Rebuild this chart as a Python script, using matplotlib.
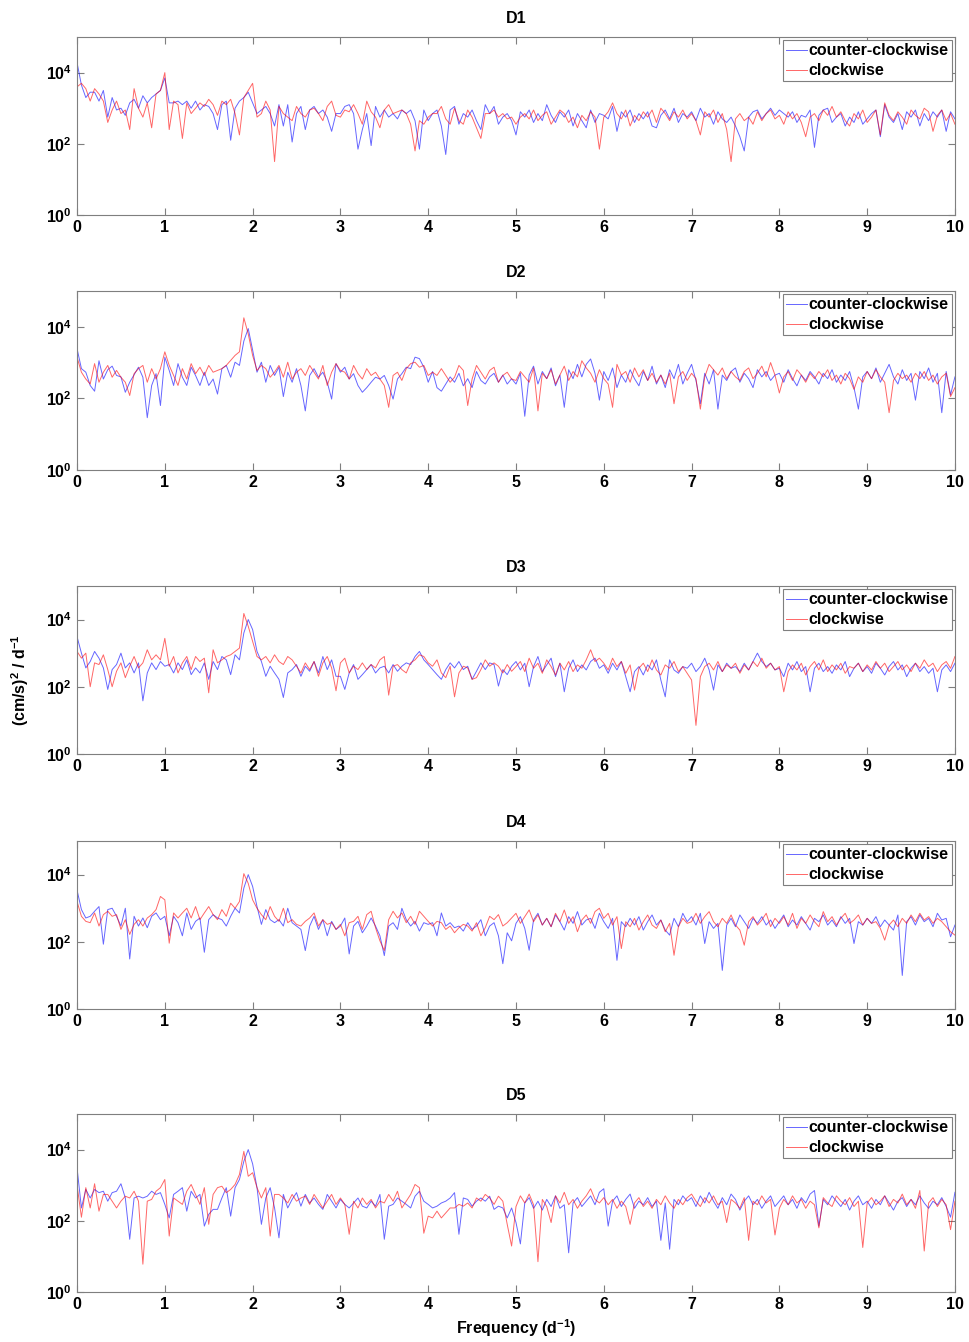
"""Rotary spectra (counter-clockwise vs clockwise) for moorings D1-D5."""
import numpy as np

import matplotlib
matplotlib.use("Agg")
import matplotlib.pyplot as plt  # noqa: E402
from matplotlib.ticker import FuncFormatter, NullLocator  # noqa: E402

plt.rcParams["font.family"] = ["Liberation Sans", "DejaVu Sans"]
plt.rcParams["font.weight"] = "bold"
plt.rcParams["mathtext.fontset"] = "custom"
plt.rcParams["mathtext.rm"] = "Liberation Sans:bold"
plt.rcParams["mathtext.bf"] = "Liberation Sans:bold"
plt.rcParams["mathtext.it"] = "Liberation Sans:bold:italic"

# frequency grid (cycles per day), 0.05 d^-1 steps
freq = np.linspace(0, 10, 201)

# log10 of spectral density, (cm/s)^2 / d^-1
d1_ccw = [4.28, 3.65, 3.3, 3.45, 3.45, 3.2, 3.5, 2.75, 3.3, 2.95, 3.0, 2.8, 3.15, 3.25, 3.0, 3.35, 3.15, 3.3, 3.4, 3.5,
          3.85, 3.15, 3.15, 3.2, 3.1, 3.2, 3.0, 3.2, 2.95, 3.1, 3.05, 2.85, 2.4, 3.1, 3.2, 2.1, 3.0, 3.2, 3.3, 3.45,
          3.15, 2.85, 2.95, 3.05, 2.85, 2.5, 3.1, 2.5, 3.1, 2.05, 2.85, 3.05, 2.4, 2.95, 3.05, 2.85, 2.95, 2.75, 2.35, 2.85,
          2.85, 3.05, 3.1, 2.85, 1.85, 2.4, 2.85, 1.95, 3.05, 2.75, 2.95, 2.75, 2.85, 2.7, 2.95, 2.85, 2.95, 2.65, 1.85, 2.95,
          2.65, 2.85, 2.95, 2.5, 1.7, 2.95, 3.05, 2.55, 2.85, 2.75, 2.95, 2.65, 2.4, 3.1, 2.85, 3.05, 2.55, 2.75, 2.85, 2.65,
          2.25, 2.9, 2.75, 2.95, 2.6, 2.85, 2.65, 3.1, 2.8, 2.6, 2.9, 2.75, 2.95, 2.5, 2.85, 2.65, 2.45, 2.95, 2.6, 2.85,
          2.8, 2.7, 3.05, 2.35, 2.9, 2.75, 2.95, 2.6, 2.85, 2.7, 2.9, 2.5, 2.45, 2.8, 2.95, 2.7, 3.0, 2.6, 2.85, 2.75,
          2.9, 2.65, 3.0, 2.75, 2.85, 2.55, 2.9, 2.7, 2.6, 2.75, 2.5, 2.2, 1.8, 2.75, 2.9, 2.95, 2.7, 2.85, 3.0, 2.8,
          2.95, 2.85, 2.75, 2.9, 2.6, 2.8, 2.75, 2.95, 1.9, 2.8, 2.95, 3.0, 2.6, 2.75, 2.85, 2.5, 2.75, 2.6, 2.9, 2.55,
          2.7, 2.85, 2.95, 2.2, 3.1, 2.75, 2.6, 2.85, 2.4, 2.9, 2.75, 2.95, 2.5, 2.85, 2.65, 2.9, 2.75, 2.95, 2.35, 2.9, 2.7]
d1_cw = [3.6, 3.7, 3.55, 3.2, 3.55, 3.4, 3.2, 2.6, 2.95, 3.2, 2.85, 2.95, 2.4, 3.55, 3.0, 2.75, 3.15, 2.45, 3.4, 3.5,
         4.0, 2.4, 3.2, 3.1, 2.15, 3.15, 2.85, 3.0, 3.15, 3.05, 3.25, 3.1, 2.8, 3.2, 3.1, 3.25, 2.85, 2.25, 3.3, 3.5,
         3.7, 2.75, 2.85, 3.2, 2.95, 1.5, 3.05, 2.85, 2.75, 2.65, 3.05, 2.85, 2.75, 2.95, 3.0, 2.85, 2.65, 3.05, 3.2, 2.8,
         2.75, 2.95, 2.9, 3.1, 2.85, 2.55, 3.2, 2.9, 2.75, 2.45, 2.95, 3.1, 2.85, 2.9, 2.95, 2.85, 2.55, 1.8, 2.65, 2.55,
         2.75, 2.85, 2.85, 3.05, 2.7, 2.55, 3.0, 2.65, 2.55, 2.95, 2.75, 2.45, 2.15, 2.85, 2.85, 2.95, 2.75, 2.85, 2.7, 2.75,
         2.55, 2.75, 2.85, 2.7, 2.95, 2.65, 2.8, 2.9, 2.55, 2.75, 2.95, 2.85, 2.6, 2.75, 2.45, 2.8, 2.65, 2.9, 2.75, 1.85,
         2.75, 2.9, 3.15, 2.85, 2.7, 2.95, 2.5, 2.8, 2.65, 2.9, 2.75, 2.95, 2.6, 3.0, 2.85, 2.65, 2.9, 2.75, 2.95, 2.7,
         2.85, 2.65, 2.25, 2.9, 2.75, 2.95, 2.6, 2.85, 2.4, 1.5, 2.7, 2.85, 2.65, 2.75, 2.55, 2.9, 2.65, 2.85, 2.95, 2.7,
         2.8, 2.55, 2.9, 2.7, 2.85, 2.6, 2.2, 2.75, 2.85, 2.65, 2.95, 2.8, 3.05, 2.75, 2.9, 2.65, 2.5, 2.85, 2.7, 2.95,
         2.6, 2.75, 2.95, 2.25, 3.15, 2.8, 2.65, 2.9, 2.75, 2.55, 2.95, 2.8, 2.7, 3.0, 2.9, 2.35, 2.8, 2.95, 2.65, 2.85, 2.55]

d2_ccw = [3.39, 2.83, 2.73, 2.36, 2.2, 3.05, 2.54, 2.8, 2.9, 2.64, 2.6, 2.17, 2.45, 2.66, 2.87, 2.59, 1.46, 2.36, 2.69, 1.8,
          3.15, 2.78, 2.36, 2.97, 2.59, 2.36, 2.87, 2.64, 2.36, 2.73, 2.36, 2.54, 2.12, 2.83, 2.92, 2.59, 3.01, 2.92, 3.6, 3.95,
          3.35, 2.73, 3.01, 2.45, 2.92, 2.64, 2.87, 2.05, 2.73, 2.45, 2.83, 2.36, 1.65, 2.64, 2.83, 2.59, 2.73, 2.45, 1.98, 2.97,
          2.73, 2.87, 2.54, 2.69, 2.36, 2.17, 2.3, 2.45, 2.59, 2.54, 2.64, 2.36, 1.98, 2.54, 2.69, 2.87, 2.83, 3.15, 3.11, 2.87,
          2.45, 2.75, 2.3, 2.2, 2.4, 2.6, 2.45, 2.7, 2.35, 2.55, 2.3, 2.75, 2.5, 2.4, 2.6, 2.7, 2.45, 2.65, 2.4, 2.55,
          2.4, 2.7, 1.5, 2.65, 2.9, 2.4, 2.75, 2.55, 2.85, 2.35, 2.65, 1.75, 2.8, 2.55, 2.95, 2.6, 2.95, 3.1, 2.7, 1.95,
          2.75, 2.5, 2.85, 2.3, 2.65, 2.45, 2.8, 2.55, 2.35, 2.75, 2.5, 2.9, 2.4, 2.65, 2.3, 2.8, 2.55, 2.95, 2.4, 2.7,
          2.95, 2.5, 1.85, 2.7, 2.4, 2.8, 1.7, 2.65, 2.5, 2.75, 2.85, 2.45, 2.7, 2.55, 2.3, 2.8, 2.6, 2.75, 2.5, 2.65,
          2.7, 2.45, 2.8, 2.55, 2.35, 2.65, 2.5, 2.75, 2.6, 2.4, 2.7, 2.55, 2.8, 2.45, 2.65, 2.5, 2.75, 2.3, 1.7, 2.6,
          2.75, 2.55, 2.85, 2.45, 2.7, 2.95, 2.6, 2.4, 2.8, 2.5, 2.7, 1.95, 2.75, 2.55, 2.85, 2.45, 2.7, 1.6, 2.75, 2.1, 2.6]
d2_cw = [3.15, 2.73, 2.54, 2.4, 2.97, 2.45, 2.73, 2.92, 2.59, 2.78, 2.59, 2.45, 2.08, 2.69, 2.83, 2.92, 2.45, 2.83, 2.54, 2.83,
         3.3, 2.92, 2.64, 2.36, 2.83, 2.54, 2.97, 2.69, 2.87, 2.64, 2.92, 2.73, 2.78, 2.83, 2.92, 3.06, 3.2, 3.3, 4.25, 3.8,
         3.2, 2.78, 2.92, 2.83, 2.59, 2.73, 2.92, 2.59, 3.01, 2.54, 2.73, 2.83, 2.64, 2.92, 2.73, 2.54, 2.92, 2.36, 2.73, 2.97,
         2.78, 2.73, 2.54, 2.92, 2.69, 2.54, 2.83, 2.64, 2.73, 2.54, 2.36, 1.75, 2.64, 2.73, 2.5, 2.83, 2.97, 3.01, 2.87, 2.92,
         2.64, 2.73, 2.64, 2.83, 2.64, 2.45, 2.59, 2.92, 2.78, 1.8, 2.54, 2.92, 2.73, 2.54, 2.78, 2.87, 2.45, 2.64, 2.73, 2.54,
         2.5, 2.75, 2.6, 2.45, 2.85, 1.65, 2.7, 2.55, 2.8, 2.4, 2.65, 2.9, 2.5, 2.75, 2.6, 3.05, 2.85, 2.7, 2.45, 2.8,
         2.55, 2.4, 1.75, 2.95, 2.65, 2.75, 2.45, 2.85, 2.6, 2.8, 2.5, 2.7, 2.45, 2.65, 2.4, 2.7, 1.85, 2.6, 2.75, 2.5,
         2.7, 2.55, 1.7, 2.6, 2.95, 2.8, 2.65, 2.85, 2.55, 2.75, 2.6, 2.5, 2.75, 2.85, 2.55, 2.7, 2.9, 2.6, 3.0, 2.65,
         2.15, 2.6, 2.75, 2.5, 2.8, 2.65, 2.45, 2.7, 2.55, 2.75, 2.6, 2.8, 2.5, 2.65, 2.4, 2.7, 2.55, 2.25, 2.6, 2.45,
         2.75, 2.55, 2.8, 2.6, 2.45, 1.6, 2.5, 2.7, 2.55, 2.65, 2.45, 2.7, 2.55, 2.75, 2.5, 2.65, 2.4, 2.6, 2.7, 2.05, 2.3]

d3_ccw = [3.49, 3.0, 2.56, 2.75, 3.05, 2.85, 2.56, 1.92, 2.51, 2.66, 3.0, 2.56, 2.71, 2.41, 2.71, 1.58, 2.41, 2.71, 2.51, 2.75,
          2.61, 2.66, 2.41, 2.71, 2.51, 2.8, 2.36, 2.56, 2.41, 2.71, 2.22, 2.75, 2.51, 2.9, 2.8, 2.36, 2.95, 2.8, 3.6, 4.0,
          3.7, 3.05, 2.75, 2.31, 2.61, 2.41, 2.22, 1.68, 2.41, 2.51, 2.66, 2.31, 2.61, 2.46, 2.75, 2.41, 2.9, 2.51, 2.8, 2.31,
          2.31, 1.92, 2.41, 2.66, 2.22, 2.36, 2.51, 2.66, 2.41, 2.56, 2.61, 2.41, 2.66, 2.46, 2.61, 2.71, 2.66, 2.9, 3.05, 2.8,
          2.66, 2.51, 2.36, 2.22, 2.51, 2.71, 2.56, 2.75, 2.51, 2.61, 2.22, 2.46, 2.71, 2.51, 2.71, 2.66, 2.02, 2.51, 2.36, 2.61,
          2.75, 2.5, 2.7, 2.0, 2.6, 2.9, 2.45, 2.65, 2.85, 2.3, 2.7, 1.85, 2.55, 2.8, 2.45, 2.65, 2.5, 2.75, 2.85, 2.55,
          2.65, 2.4, 2.7, 2.5, 2.75, 2.3, 1.85, 2.45, 2.6, 2.35, 2.65, 2.5, 2.8, 2.2, 1.7, 2.8, 2.5, 2.4, 2.6, 2.55,
          2.7, 2.45, 2.6, 2.85, 2.5, 1.9, 2.65, 2.45, 2.7, 2.55, 2.6, 2.45, 2.7, 2.5, 2.75, 3.0, 2.75, 2.6, 2.7, 2.5,
          2.55, 2.3, 2.7, 2.5, 2.75, 2.45, 2.6, 1.85, 2.55, 2.7, 2.45, 2.6, 2.4, 2.65, 2.5, 2.75, 2.3, 2.55, 2.7, 2.45,
          2.6, 2.4, 2.7, 2.55, 2.35, 2.6, 2.75, 2.5, 2.65, 2.3, 2.55, 2.7, 2.45, 2.6, 2.4, 2.55, 1.85, 2.5, 2.65, 2.45, 2.7]
d3_cw = [3.05, 2.85, 3.0, 2.0, 2.71, 2.66, 2.95, 2.51, 2.0, 2.46, 2.71, 2.27, 2.61, 2.9, 2.56, 2.71, 3.1, 2.8, 2.95, 2.8,
         3.44, 2.61, 2.9, 2.41, 2.71, 2.9, 2.51, 2.9, 2.75, 2.85, 1.82, 3.1, 2.71, 2.8, 2.9, 2.95, 3.05, 3.15, 4.18, 3.8,
         3.35, 2.9, 2.8, 2.9, 2.71, 2.95, 2.75, 2.66, 2.9, 2.8, 2.61, 2.41, 2.71, 2.51, 2.75, 2.31, 2.71, 2.9, 2.56, 1.88,
         2.71, 2.85, 2.41, 2.61, 2.51, 2.71, 2.51, 2.66, 2.56, 2.8, 2.9, 1.75, 2.61, 2.66, 2.51, 2.41, 2.71, 2.8, 2.95, 2.9,
         2.71, 2.61, 2.8, 2.41, 2.27, 2.61, 1.7, 2.41, 2.61, 2.56, 2.22, 2.27, 2.51, 2.8, 2.61, 2.71, 2.61, 2.41, 2.66, 2.46,
         2.6, 2.75, 2.45, 2.85, 2.55, 2.7, 2.4, 2.8, 2.6, 2.35, 2.7, 2.5, 2.75, 2.45, 2.65, 2.55, 2.8, 3.1, 2.75, 2.85,
         2.7, 2.5, 2.85, 2.6, 2.75, 2.4, 2.65, 1.9, 2.55, 2.7, 2.45, 2.8, 2.5, 2.35, 2.65, 2.55, 2.75, 2.45, 2.6, 2.4,
         2.2, 0.85, 2.3, 2.6, 2.7, 2.5, 2.75, 2.45, 2.65, 2.55, 2.7, 2.4, 2.65, 2.5, 2.75, 2.6, 2.85, 2.55, 2.7, 2.5,
         2.6, 1.85, 2.45, 2.65, 2.5, 2.7, 2.35, 2.6, 2.75, 2.5, 2.8, 2.45, 2.65, 2.5, 2.7, 2.4, 2.6, 2.55, 2.7, 2.45,
         2.65, 2.5, 2.75, 2.55, 2.7, 2.45, 2.6, 2.75, 2.5, 2.65, 2.45, 2.7, 2.55, 2.8, 2.6, 2.7, 2.45, 2.65, 2.75, 2.55, 2.9]

d4_ccw = [3.54, 2.96, 2.71, 2.76, 2.91, 3.05, 1.93, 2.96, 3.0, 2.76, 2.47, 3.0, 1.49, 2.76, 2.47, 2.71, 2.42, 2.76, 2.86, 2.66,
          2.76, 2.18, 2.76, 2.57, 2.18, 2.86, 2.37, 2.61, 2.71, 1.69, 2.66, 2.81, 2.71, 2.66, 2.47, 2.76, 3.0, 2.86, 3.6, 4.0,
          3.65, 3.05, 2.52, 2.96, 2.66, 2.57, 2.66, 2.47, 3.0, 2.57, 2.47, 2.37, 1.74, 2.47, 2.76, 2.37, 2.66, 2.18, 2.61, 2.37,
          2.47, 2.71, 1.64, 2.47, 2.61, 2.27, 2.47, 2.71, 2.47, 2.18, 1.59, 2.47, 2.57, 2.37, 3.0, 2.66, 2.47, 2.61, 2.32, 2.57,
          2.52, 2.57, 2.18, 2.86, 2.47, 2.57, 2.42, 2.47, 2.32, 2.57, 2.37, 2.47, 2.66, 2.18, 2.47, 2.57, 2.18, 1.35, 2.27, 2.03,
          2.55, 2.75, 2.4, 1.75, 2.65, 2.85, 2.5, 2.7, 2.45, 2.8, 2.6, 2.35, 2.75, 2.55, 2.9, 2.5, 2.65, 2.7, 2.4, 2.85,
          2.6, 2.4, 2.7, 1.45, 2.6, 2.45, 2.7, 2.5, 2.75, 2.35, 2.6, 2.8, 2.5, 2.65, 2.35, 2.2, 2.7, 2.45, 2.85, 2.6,
          2.75, 2.5, 2.85, 1.95, 2.6, 2.4, 2.55, 1.15, 2.5, 2.7, 2.45, 2.8, 2.6, 2.4, 2.7, 2.55, 2.75, 2.5, 2.65, 2.4,
          2.6, 2.8, 2.45, 2.65, 2.5, 2.75, 2.55, 2.35, 2.7, 2.6, 2.8, 2.5, 2.65, 2.45, 2.75, 2.55, 2.7, 1.95, 2.6, 2.5,
          2.7, 2.55, 2.75, 2.45, 2.65, 2.5, 2.35, 2.8, 1.0, 2.6, 2.75, 2.5, 2.8, 2.6, 2.7, 2.45, 2.85, 2.65, 2.7, 2.15, 2.5]
d4_cw = [3.2, 2.76, 2.61, 2.57, 2.86, 2.47, 2.81, 2.91, 2.76, 2.81, 2.37, 2.66, 2.22, 2.52, 2.66, 2.47, 2.71, 2.81, 2.96, 3.35,
         3.25, 1.96, 2.86, 2.71, 2.86, 3.0, 2.71, 3.05, 2.66, 2.86, 3.05, 2.81, 2.66, 2.96, 2.76, 3.15, 3.0, 3.2, 4.03, 3.74,
         3.25, 3.0, 2.81, 2.66, 3.05, 2.76, 2.61, 3.0, 2.57, 2.66, 2.52, 2.47, 2.61, 2.71, 2.86, 2.47, 2.66, 2.52, 2.57, 2.37,
         2.52, 2.18, 2.57, 2.61, 2.76, 2.37, 2.81, 2.91, 2.42, 2.03, 1.74, 2.66, 2.91, 2.71, 2.86, 2.57, 2.76, 2.52, 2.91, 2.76,
         2.61, 2.47, 2.61, 2.57, 2.37, 2.47, 2.27, 2.42, 2.52, 2.47, 2.32, 2.57, 2.18, 2.42, 2.76, 2.66, 2.81, 2.47, 2.57, 2.71,
         2.85, 2.55, 2.75, 2.95, 2.6, 2.8, 2.5, 2.7, 2.45, 2.85, 2.6, 2.95, 2.55, 2.75, 2.3, 2.65, 2.8, 2.55, 2.9, 3.0,
         2.7, 2.85, 2.5, 2.75, 1.8, 2.6, 2.45, 2.7, 2.35, 2.6, 2.8, 2.5, 2.4, 2.65, 2.3, 2.55, 1.6, 2.45, 2.7, 2.55,
         2.6, 2.85, 2.55, 2.75, 2.9, 2.6, 2.45, 2.7, 2.55, 2.8, 2.5, 2.35, 1.9, 2.6, 2.75, 2.5, 2.65, 2.85, 2.45, 2.7,
         2.55, 2.75, 2.5, 2.85, 2.4, 2.7, 2.55, 2.8, 2.6, 2.45, 2.9, 2.6, 2.75, 2.5, 2.7, 2.85, 2.55, 2.65, 2.8, 2.5,
         2.7, 2.55, 2.6, 2.4, 2.05, 2.5, 2.65, 2.45, 2.7, 2.55, 2.8, 2.6, 2.85, 2.65, 2.75, 2.55, 2.7, 2.6, 2.45, 2.3, 2.2]

d5_ccw = [3.49, 2.36, 2.88, 2.64, 2.88, 2.79, 2.83, 2.55, 2.79, 2.83, 3.04, 2.64, 1.48, 2.64, 2.69, 2.64, 2.69, 2.83, 2.74, 2.79,
          2.46, 2.08, 2.74, 2.83, 2.93, 2.27, 2.83, 2.64, 2.74, 1.85, 2.18, 2.32, 2.32, 2.64, 2.93, 2.13, 2.93, 3.16, 3.67, 4.0,
          3.6, 2.93, 1.9, 2.64, 2.93, 2.36, 1.52, 2.74, 2.36, 2.6, 2.79, 2.41, 2.74, 2.5, 2.64, 2.46, 2.32, 2.74, 2.55, 2.36,
          2.6, 2.46, 2.36, 2.5, 2.64, 2.41, 2.36, 2.55, 2.41, 2.74, 1.48, 2.41, 2.46, 2.64, 2.55, 2.46, 2.36, 2.69, 2.83, 2.55,
          2.46, 2.36, 2.41, 2.5, 2.55, 2.64, 2.79, 1.62, 2.64, 2.6, 2.41, 2.55, 2.64, 2.55, 2.69, 2.32, 2.41, 2.36, 2.08, 2.36,
          1.95, 1.35, 2.5, 2.65, 2.35, 2.55, 2.3, 2.6, 2.4, 2.7, 2.35, 2.45, 1.1, 2.5, 2.65, 2.4, 2.55, 2.7, 2.45, 2.8,
          2.9, 1.85, 2.55, 2.7, 2.4, 2.6, 2.75, 2.35, 2.55, 2.45, 2.65, 2.4, 2.55, 1.45, 2.5, 1.2, 2.6, 2.45, 2.7, 2.55,
          2.65, 2.4, 2.7, 2.5, 2.8, 2.55, 2.35, 2.65, 2.45, 2.75, 2.6, 2.3, 2.55, 2.7, 2.45, 2.6, 2.35, 2.55, 2.7, 2.4,
          2.55, 2.7, 2.45, 2.6, 2.35, 2.65, 2.5, 2.75, 2.85, 1.85, 2.6, 2.45, 2.7, 2.55, 2.4, 2.6, 2.3, 2.55, 2.7, 2.45,
          2.55, 2.35, 2.6, 2.45, 2.7, 2.5, 2.3, 2.55, 2.65, 2.4, 2.6, 2.45, 2.7, 2.5, 2.35, 2.55, 2.45, 2.65, 2.4, 2.1, 2.8]
d5_cw = [3.0, 2.1, 2.93, 2.36, 3.04, 2.27, 2.74, 2.74, 2.55, 2.36, 2.55, 2.69, 2.64, 2.83, 2.55, 0.78, 2.55, 2.6, 2.83, 2.93,
         3.16, 1.57, 2.64, 2.55, 2.46, 2.83, 3.02, 2.74, 2.46, 2.93, 1.9, 2.74, 2.93, 2.97, 2.79, 2.88, 3.02, 3.3, 3.95, 3.25,
         3.35, 2.93, 2.64, 2.93, 1.57, 2.74, 2.74, 2.64, 2.5, 2.74, 2.55, 2.64, 2.69, 2.46, 2.74, 2.55, 2.36, 2.55, 2.74, 2.46,
         2.64, 2.46, 1.62, 2.55, 2.36, 2.64, 2.46, 2.6, 2.36, 2.55, 2.5, 2.74, 2.55, 2.83, 2.36, 2.55, 2.74, 3.02, 2.93, 1.65,
         2.13, 2.08, 2.27, 2.08, 2.22, 2.36, 2.36, 2.46, 2.41, 2.5, 2.36, 2.64, 2.55, 2.74, 2.64, 2.46, 2.69, 2.55, 1.9, 1.29,
         2.4, 2.7, 2.5, 2.75, 2.45, 0.85, 2.6, 2.4, 1.95, 2.7, 2.5, 2.8, 2.45, 2.6, 2.35, 2.55, 2.7, 2.9, 2.6, 2.5,
         2.65, 2.45, 2.6, 2.35, 2.55, 2.4, 1.9, 2.5, 2.65, 2.4, 2.55, 2.35, 2.6, 2.45, 2.7, 2.5, 2.35, 2.6, 2.45, 2.65,
         2.75, 2.55, 2.4, 2.65, 2.5, 2.7, 2.45, 2.55, 1.95, 2.6, 2.5, 2.35, 2.65, 1.45, 2.55, 2.45, 2.7, 2.5, 2.6, 1.6,
         2.35, 2.6, 2.45, 2.7, 2.5, 2.6, 2.35, 2.55, 2.45, 1.8, 2.65, 2.5, 2.4, 2.7, 2.55, 2.45, 2.65, 2.4, 2.55, 1.25,
         2.5, 2.65, 2.45, 2.55, 2.7, 2.4, 2.6, 2.5, 2.75, 2.45, 2.6, 2.35, 2.85, 1.15, 2.5, 2.65, 2.4, 2.6, 2.45, 1.75, 2.55]

stations = ["D1", "D2", "D3", "D4", "D5"]
ccw_logs = [d1_ccw, d2_ccw, d3_ccw, d4_ccw, d5_ccw]
cw_logs = [d1_cw, d2_cw, d3_cw, d4_cw, d5_cw]

# axes rectangles in figure fractions (left, bottom, width, height)
rects = [(0.0795, 0.8398, 0.906, 0.1326),
         (0.0795, 0.6498, 0.906, 0.1334),
         (0.0795, 0.4382, 0.906, 0.1252),
         (0.0795, 0.2481, 0.906, 0.1252),
         (0.0795, 0.0373, 0.906, 0.1326)]

GRAY = "#7f7f7f"
FS = 11.5

fig = plt.figure(figsize=(9.69, 13.42), dpi=100)

for name, ccw, cw, rect in zip(stations, ccw_logs, cw_logs, rects):
    assert len(ccw) == len(freq) and len(cw) == len(freq), name
    ax = fig.add_axes(rect)
    ax.plot(freq, 10 ** np.asarray(ccw), color=(0, 0, 1), alpha=0.6, lw=0.7, label="counter-clockwise")
    ax.plot(freq, 10 ** np.asarray(cw), color=(1, 0, 0), alpha=0.6, lw=0.7, label="clockwise")
    ax.set_yscale("log")
    ax.set_xlim(0, 10)
    ax.set_ylim(1, 1e5)
    ax.set_xticks(range(11))
    ax.set_yticks([1, 1e2, 1e4])
    ax.yaxis.set_minor_locator(NullLocator())
    ax.yaxis.set_major_formatter(FuncFormatter(lambda v, _: f"$10^{{{int(round(np.log10(v)))}}}$"))
    ax.tick_params(direction="in", top=True, right=True, length=5, width=0.8, color=GRAY,
                   labelsize=FS, pad=3.5)
    for sp in ax.spines.values():
        sp.set_color(GRAY)
        sp.set_linewidth(0.8)
    ax.set_title(name, fontsize=FS, fontweight="bold", pad=10)
    leg = ax.legend(loc="upper right", fontsize=FS, fancybox=False, framealpha=1, edgecolor=GRAY,
                    borderpad=0.2, labelspacing=0.3, handlelength=1.3, handletextpad=0.1,
                    borderaxespad=0.2)
    leg.get_frame().set_linewidth(0.8)
    last = ax

last.set_xlabel(r"Frequency (d$^{-1}$)", fontsize=FS, fontweight="bold", labelpad=4)
fig.text(0.021, 1 - 680 / 1342, r"(cm/s)$^2$ / d$^{-1}$", rotation=90, ha="center", va="center",
         fontsize=FS, fontweight="bold")

fig.savefig("out.png", dpi=100)
